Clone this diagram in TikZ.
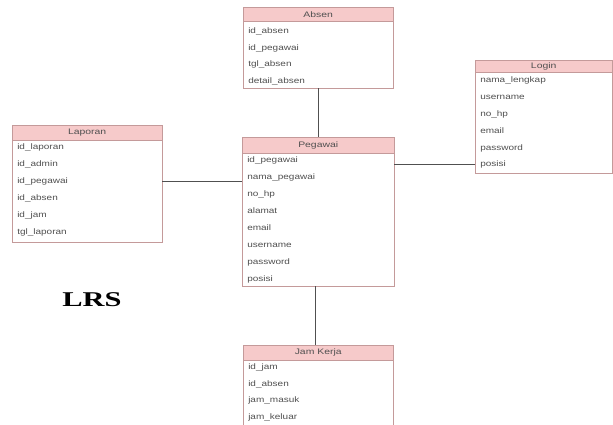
\documentclass[tikz,border=0pt]{standalone}
\usepackage{fontspec}
\setmainfont{Liberation Sans}
\newfontfamily\lrsfont{Liberation Serif}
\definecolor{hdrfill}{HTML}{F6CACA}
\definecolor{boxline}{HTML}{C49A9A}
\definecolor{txt}{HTML}{505050}
\definecolor{conn}{HTML}{505050}
\begin{document}
\begin{tikzpicture}[x=1pt,y=-1pt,
  hdr/.style={draw=boxline,fill=hdrfill,anchor=north west,inner sep=0pt},
  hdrtxt/.style={inner sep=0pt,text=txt,xscale=1.3,font=\fontsize{8}{9}\selectfont},
  body/.style={draw=boxline,fill=white,anchor=north west,inner sep=0pt},
  fld/.style={anchor=west,inner sep=0pt,text=txt,xscale=1.25,font=\fontsize{8}{9}\selectfont},
  link/.style={draw=conn,line width=0.9pt}]
\useasboundingbox (0,0) rectangle (613,425);
\fill[white] (0,0) rectangle (613,425);

% ---------- Absen
\node[body,minimum width=150,minimum height=67] (absB) at (243,21) {};
\node[hdr,minimum width=150,minimum height=14] (absH) at (243,7) {};
\node[hdrtxt] (absT) at (absH.center) {Absen};
\node[fld] (abs1) at (248,31) {id\_absen};
\node[fld] (abs2) at (248,48) {id\_pegawai};
\node[fld] (abs3) at (248,64) {tgl\_absen};
\node[fld] (abs4) at (248,81) {detail\_absen};

% ---------- Login
\node[body,minimum width=137,minimum height=101] (logB) at (475,72) {};
\node[hdr,minimum width=137,minimum height=12] (logH) at (475,60) {};
\node[hdrtxt] (logT) at (logH.center) {Login};
\node[fld] (log1) at (480,80) {nama\_lengkap};
\node[fld] (log2) at (480,97) {username};
\node[fld] (log3) at (480,114) {no\_hp};
\node[fld] (log4) at (480,131) {email};
\node[fld] (log5) at (480,148) {password};
\node[fld] (log6) at (480,164) {posisi};

% ---------- Laporan
\node[body,minimum width=150,minimum height=102] (lapB) at (12,140) {};
\node[hdr,minimum width=150,minimum height=15] (lapH) at (12,125) {};
\node[hdrtxt] (lapT) at (lapH.center) {Laporan};
\node[fld] (lap1) at (17,147) {id\_laporan};
\node[fld] (lap2) at (17,164) {id\_admin};
\node[fld] (lap3) at (17,181) {id\_pegawai};
\node[fld] (lap4) at (17,198) {id\_absen};
\node[fld] (lap5) at (17,215) {id\_jam};
\node[fld] (lap6) at (17,232) {tgl\_laporan};

% ---------- Pegawai
\node[body,minimum width=152,minimum height=133] (pegB) at (242,153) {};
\node[hdr,minimum width=152,minimum height=16] (pegH) at (242,137) {};
\node[hdrtxt] (pegT) at (pegH.center) {Pegawai};
\node[fld] (peg1) at (247,160) {id\_pegawai};
\node[fld] (peg2) at (247,177) {nama\_pegawai};
\node[fld] (peg3) at (247,194) {no\_hp};
\node[fld] (peg4) at (247,211) {alamat};
\node[fld] (peg5) at (247,228) {email};
\node[fld] (peg6) at (247,245) {username};
\node[fld] (peg7) at (247,262) {password};
\node[fld] (peg8) at (247,279) {posisi};

% ---------- Jam Kerja
\node[body,minimum width=150,minimum height=70] (jamB) at (243,360) {};
\node[hdr,minimum width=150,minimum height=15] (jamH) at (243,345) {};
\node[hdrtxt] (jamT) at (jamH.center) {Jam Kerja};
\node[fld] (jam1) at (248,367) {id\_jam};
\node[fld] (jam2) at (248,384) {id\_absen};
\node[fld] (jam3) at (248,400) {jam\_masuk};
\node[fld] (jam4) at (248,417) {jam\_keluar};

% ---------- connectors
\draw[link] (absB.south) -- (pegH.north);
\draw[link] ([xshift=-3]pegB.south) -- ([xshift=-3]pegB.south |- jamH.north);
\draw[link] ([yshift=10]lapB.east) -- ([yshift=10]lapB.east -| pegB.west);
\draw[link] ([yshift=-42]logB.west) -- ([yshift=-42]logB.west -| pegB.east);

% ---------- label
\node[inner sep=0pt,xscale=1.45,font=\lrsfont\bfseries\fontsize{21}{22}\selectfont] (lrs) at (92,300) {LRS};
\end{tikzpicture}
\end{document}
